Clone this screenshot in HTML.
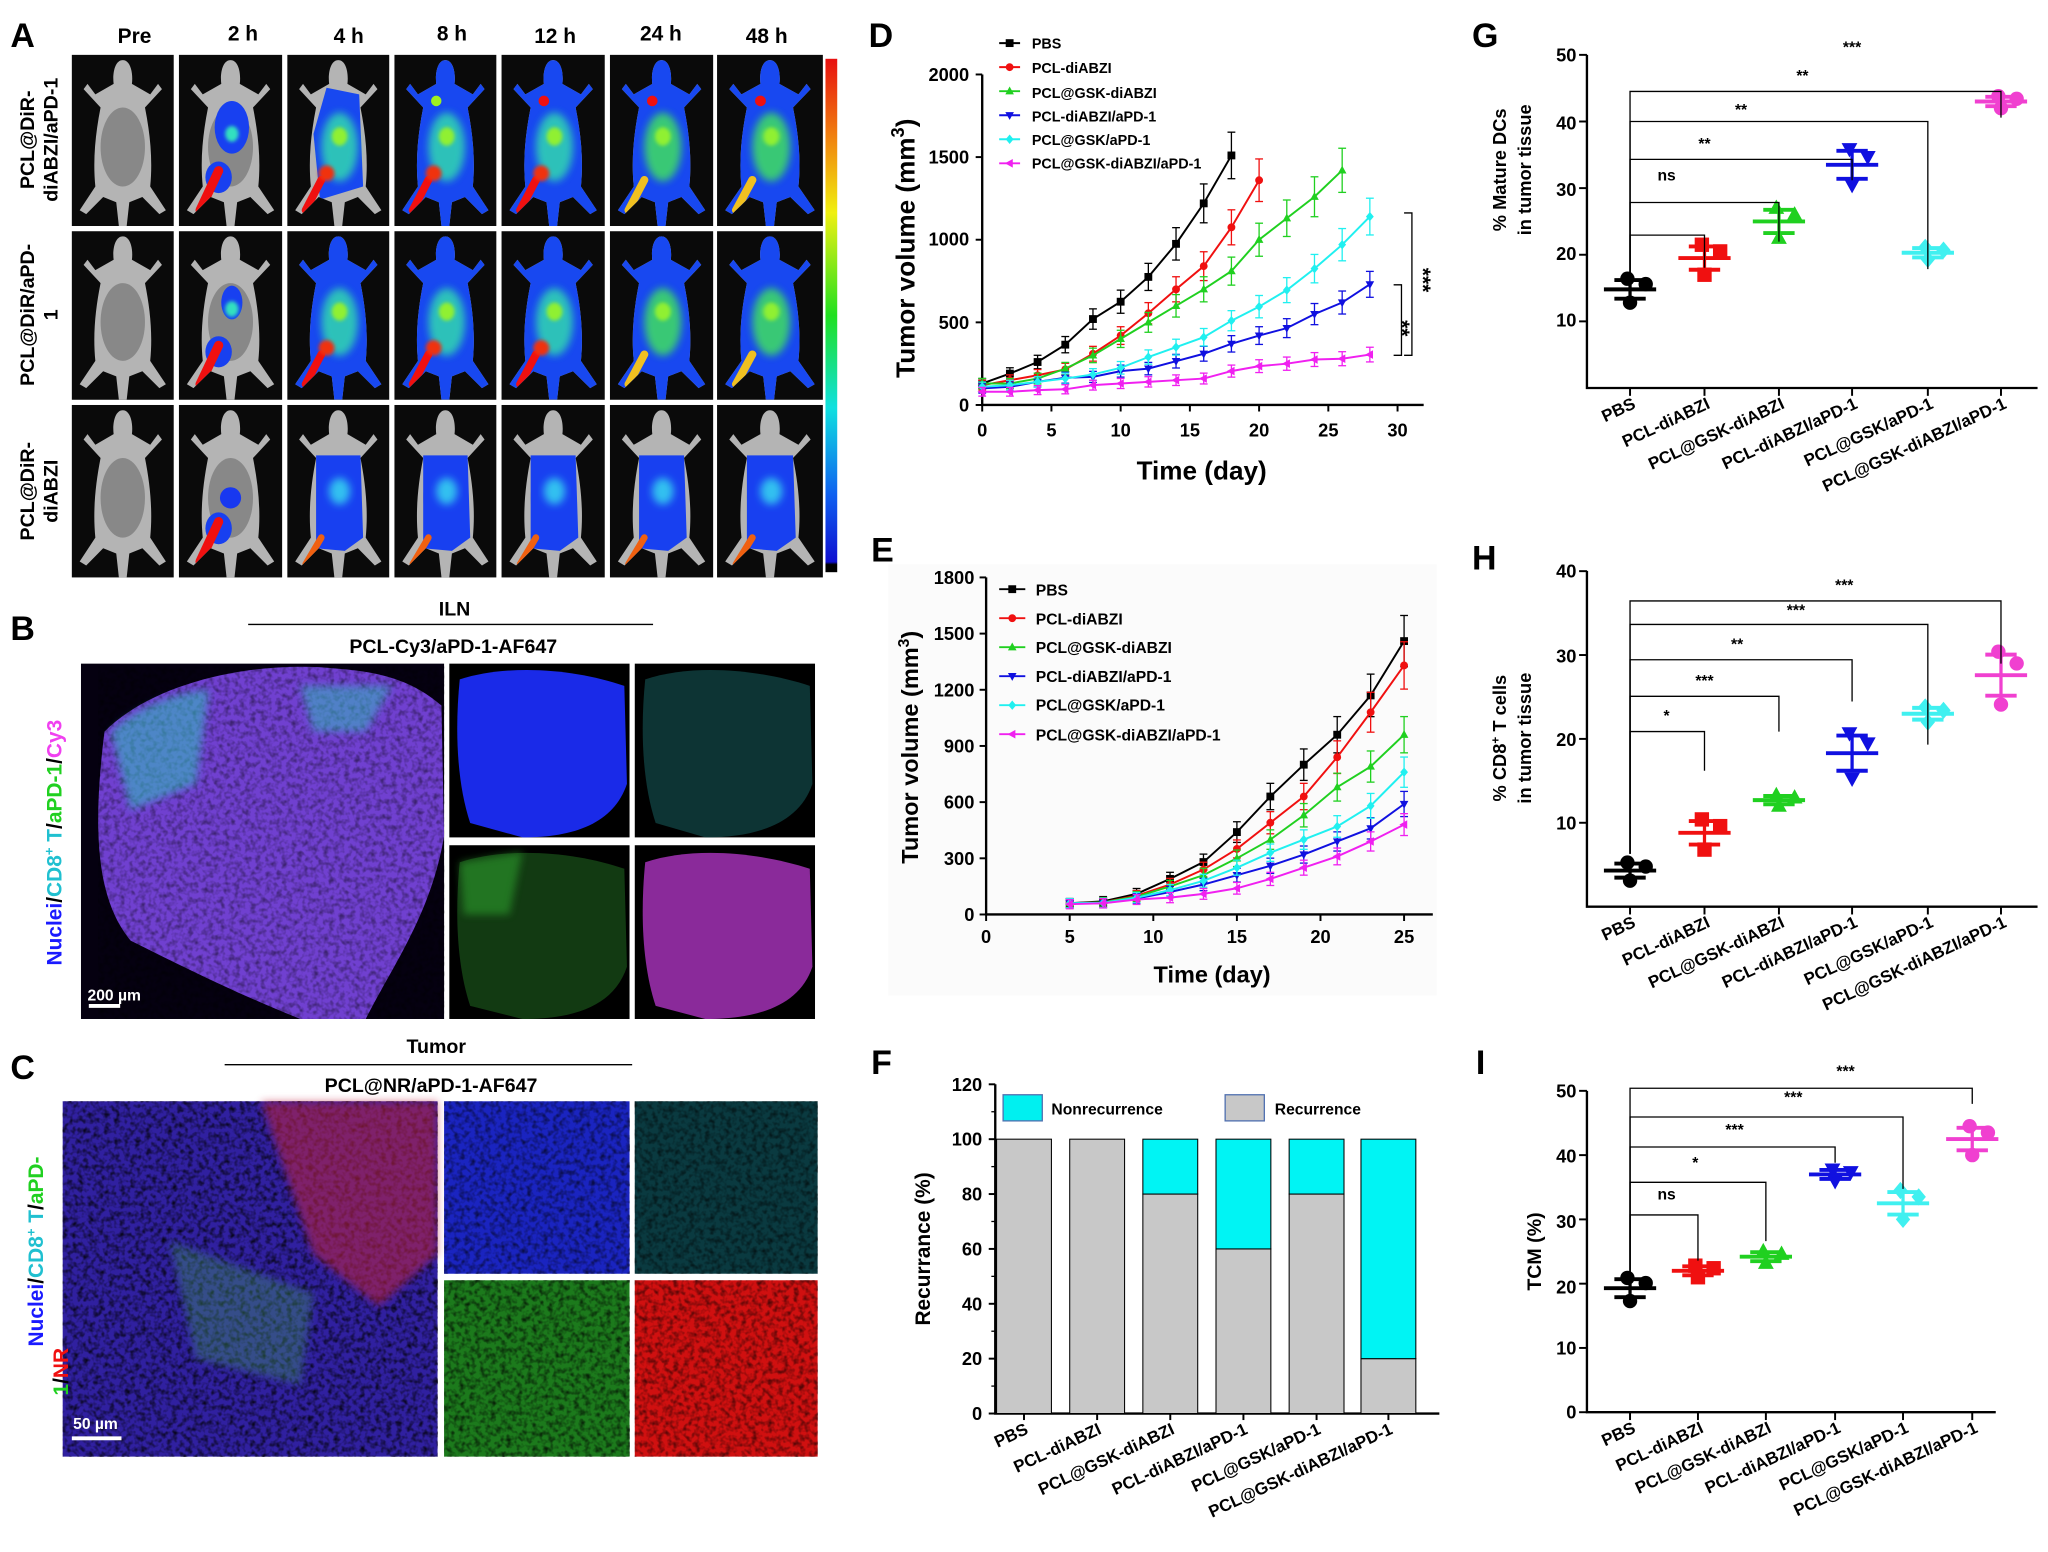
<!DOCTYPE html>
<html><head><meta charset="utf-8"><style>
html,body{margin:0;padding:0;background:#fff;}
svg{display:block;}
text{font-family:"Liberation Sans",Arial,sans-serif;font-weight:bold;fill:#000;}
</style></head><body>
<svg id="s" width="2048" height="1552" viewBox="0 0 1568 1188" preserveAspectRatio="none" xmlns="http://www.w3.org/2000/svg">
<defs>
<linearGradient id="cb" x1="0" y1="0" x2="0" y2="1">
<stop offset="0" stop-color="#e81010"/><stop offset="0.15" stop-color="#f08010"/><stop offset="0.3" stop-color="#f0f010"/><stop offset="0.5" stop-color="#20e020"/><stop offset="0.68" stop-color="#10e0e0"/><stop offset="0.85" stop-color="#1060f0"/><stop offset="0.98" stop-color="#1010d0"/><stop offset="0.985" stop-color="#000"/><stop offset="1" stop-color="#000"/>
</linearGradient>
<clipPath id="mc"><path d="M39,4 C45,4 47,14 46,22 L60,30 L66,22 L69,26 L56,40 C60,60 62,80 60,100 L72,118 L67,121 L54,108 L44,112 L42,130 L36,130 L34,112 L24,108 L11,121 L6,118 L18,100 C16,80 18,60 22,40 L9,26 L12,22 L18,30 L32,22 C31,14 33,4 39,4 Z"/></clipPath>
<filter id="bl" x="-30%" y="-30%" width="160%" height="160%"><feGaussianBlur stdDeviation="3"/></filter>
<filter id="bl2" x="-30%" y="-30%" width="160%" height="160%"><feGaussianBlur stdDeviation="1.5"/></filter>
<filter id="tex" x="0" y="0" width="100%" height="100%"><feTurbulence type="fractalNoise" baseFrequency="0.25" numOctaves="2" seed="3"/><feColorMatrix type="matrix" values="0 0 0 0 0  0 0 0 0 0  0 0 0 0 0  0 0 0 -2.2 1.3"/></filter>
</defs>
<g id="A"></g>
<rect x="632" y="45" width="9" height="393" fill="url(#cb)"/>
<text x="8" y="36" font-size="26">A</text>
<g font-size="16" text-anchor="middle">
<text x="103" y="33">Pre</text><text x="186" y="31">2 h</text><text x="267" y="33">4 h</text><text x="346" y="31">8 h</text><text x="425" y="33">12 h</text><text x="506" y="31">24 h</text><text x="587" y="33">48 h</text>
</g>
<g font-size="15" text-anchor="middle">
<text transform="translate(26,107) rotate(-90)">PCL@DiR-</text>
<text transform="translate(44,107) rotate(-90)">diABZI/aPD-1</text>
<text transform="translate(26,241) rotate(-90)">PCL@DiR/aPD-</text>
<text transform="translate(44,241) rotate(-90)">1</text>
<text transform="translate(26,376) rotate(-90)">PCL@DiR-</text>
<text transform="translate(44,376) rotate(-90)">diABZI</text>
</g>
<text x="8" y="490" font-size="26">B</text>
<text x="348" y="471" font-size="15" text-anchor="middle">ILN</text>
<line x1="190" y1="478" x2="500" y2="478" stroke="#000" stroke-width="1"/>
<text x="347" y="500" font-size="15" text-anchor="middle">PCL-Cy3/aPD-1-AF647</text>
<rect x="62" y="508" width="278" height="272" fill="#050010"/>
<path d="M80,560 C120,520 200,505 260,512 C300,515 320,525 338,540 L340,640 C330,700 300,740 280,780 L230,780 C180,760 140,740 100,720 C75,690 70,640 80,560 Z" fill="#7040d0"/>
<path d="M80,560 C120,520 200,505 260,512 C300,515 320,525 338,540 L340,640 C330,700 300,740 280,780 L230,780 C180,760 140,740 100,720 C75,690 70,640 80,560 Z" fill="#c040c0" opacity="0.45" filter="url(#tex)"/>
<path d="M85,560 C100,545 130,530 160,528 L150,600 L100,620 Z" fill="#30c0c0" opacity="0.55" filter="url(#bl)"/>
<path d="M230,525 L300,525 L280,560 L240,560 Z" fill="#30c0c0" opacity="0.5" filter="url(#bl)"/>
<rect x="344" y="508" width="138" height="133" fill="#000"/>
<path d="M352,520 C390,508 440,512 478,525 L480,600 C470,630 440,641 400,641 L360,630 C350,600 348,560 352,520Z" fill="#1a2ae8"/>
<rect x="486" y="508" width="138" height="133" fill="#000"/>
<path d="M494,520 C530,508 580,512 620,525 L622,600 C612,630 580,641 540,641 L502,630 C492,600 490,560 494,520Z" fill="#0d3434"/>
<rect x="344" y="647" width="138" height="133" fill="#000"/>
<path d="M352,660 C390,648 440,652 478,665 L480,740 C470,770 440,780 400,780 L360,770 C350,740 348,700 352,660Z" fill="#123a12"/>
<path d="M352,660 L400,652 L390,700 L355,700Z" fill="#30b030" opacity="0.5" filter="url(#bl)"/>
<rect x="486" y="647" width="138" height="133" fill="#000"/>
<path d="M494,660 C530,648 580,652 620,665 L622,740 C612,770 580,780 540,780 L502,770 C492,740 490,700 494,660Z" fill="#8a2a9a"/>
<line x1="68" y1="770" x2="92" y2="770" stroke="#fff" stroke-width="3"/>
<text x="67" y="766" font-size="12" style="fill:#fff">200 µm</text>
<text transform="translate(47,645) rotate(-90)" font-size="16" text-anchor="middle"><tspan style="fill:#1a1aff">Nuclei</tspan>/<tspan style="fill:#20c0d0">CD8</tspan><tspan style="fill:#20c0d0" font-size="10" dy="-6">+</tspan><tspan style="fill:#20c0d0" dy="6"> T</tspan>/<tspan style="fill:#20d020">aPD-1</tspan>/<tspan style="fill:#f040f0">Cy3</tspan></text>
<text x="8" y="826" font-size="26">C</text>
<text x="334" y="806" font-size="15" text-anchor="middle">Tumor</text>
<line x1="172" y1="815" x2="484" y2="815" stroke="#000" stroke-width="1"/>
<text x="330" y="836" font-size="15" text-anchor="middle">PCL@NR/aPD-1-AF647</text>
<rect x="48" y="843" width="287" height="272" fill="#3020a0"/>
<rect x="48" y="843" width="287" height="272" fill="#000" filter="url(#tex)" opacity="0.8"/>
<path d="M200,843 L335,843 L335,960 L290,1000 L240,960 Z" fill="#c02040" opacity="0.55" filter="url(#bl)"/>
<path d="M130,950 L240,990 L230,1060 L150,1040Z" fill="#40a060" opacity="0.35" filter="url(#bl)"/>
<rect x="340" y="843" width="142" height="132" fill="#1a24c0"/>
<rect x="340" y="843" width="142" height="132" fill="#000" filter="url(#tex)" opacity="0.6"/>
<rect x="486" y="843" width="140" height="132" fill="#0a3a40"/>
<rect x="486" y="843" width="140" height="132" fill="#000" filter="url(#tex)" opacity="0.6"/>
<rect x="340" y="980" width="142" height="135" fill="#1c7a1c"/>
<rect x="340" y="980" width="142" height="135" fill="#000" filter="url(#tex)" opacity="0.7"/>
<rect x="486" y="980" width="140" height="135" fill="#d01010"/>
<rect x="486" y="980" width="140" height="135" fill="#000" filter="url(#tex)" opacity="0.6"/>
<line x1="55" y1="1101" x2="93" y2="1101" stroke="#fff" stroke-width="3"/>
<text x="56" y="1094" font-size="12" style="fill:#fff">50 µm</text>
<text transform="translate(33,958) rotate(-90)" font-size="16" text-anchor="middle"><tspan style="fill:#1a1aff">Nuclei</tspan>/<tspan style="fill:#20c0d0">CD8</tspan><tspan style="fill:#20c0d0" font-size="10" dy="-6">+</tspan><tspan style="fill:#20c0d0" dy="6"> T</tspan>/<tspan style="fill:#20d020">aPD-</tspan></text>
<text transform="translate(52,1050) rotate(-90)" font-size="16" text-anchor="middle"><tspan style="fill:#20d020">1</tspan>/<tspan style="fill:#f01010">NR</tspan></text>

<text x="665" y="36" font-size="26">D</text>
<g font-size="14" text-anchor="end">
<text x="742" y="315">0</text><text x="742" y="252">500</text><text x="742" y="188">1000</text><text x="742" y="125">1500</text><text x="742" y="62">2000</text>
</g>
<g font-size="14" text-anchor="middle">
<text x="752" y="334">0</text><text x="805" y="334">5</text><text x="858" y="334">10</text><text x="911" y="334">15</text><text x="964" y="334">20</text><text x="1017" y="334">25</text><text x="1070" y="334">30</text>
</g>
<text x="920" y="367" font-size="20" text-anchor="middle">Time (day)</text>
<text transform="translate(700,190) rotate(-90)" font-size="20" text-anchor="middle">Tumor volume (mm<tspan font-size="14" dy="-8">3</tspan><tspan dy="8">)</tspan></text>
<g font-size="11">
<text x="790" y="37">PBS</text><text x="790" y="56">PCL-diABZI</text><text x="790" y="75">PCL@GSK-diABZI</text><text x="790" y="93">PCL-diABZI/aPD-1</text><text x="790" y="111">PCL@GSK/aPD-1</text><text x="790" y="129">PCL@GSK-diABZI/aPD-1</text>
</g>
<text transform="translate(1068,245) rotate(90)" font-size="16">**</text>
<text transform="translate(1084,205) rotate(90)" font-size="16">***</text>
<rect x="680" y="432" width="420" height="330" fill="#fbfbfb"/>
<text x="667" y="430" font-size="26">E</text>
<g font-size="14" text-anchor="end">
<text x="746" y="705">0</text><text x="746" y="662">300</text><text x="746" y="619">600</text><text x="746" y="576">900</text><text x="746" y="533">1200</text><text x="746" y="490">1500</text><text x="746" y="447">1800</text>
</g>
<g font-size="14" text-anchor="middle">
<text x="755" y="722">0</text><text x="819" y="722">5</text><text x="883" y="722">10</text><text x="947" y="722">15</text><text x="1011" y="722">20</text><text x="1075" y="722">25</text>
</g>
<text x="928" y="752" font-size="18" text-anchor="middle">Time (day)</text>
<text transform="translate(703,572) rotate(-90)" font-size="18" text-anchor="middle">Tumor volume (mm<tspan font-size="12" dy="-7">3</tspan><tspan dy="7">)</tspan></text>
<g font-size="12">
<text x="793" y="456">PBS</text><text x="793" y="478">PCL-diABZI</text><text x="793" y="500">PCL@GSK-diABZI</text><text x="793" y="522">PCL-diABZI/aPD-1</text><text x="793" y="544">PCL@GSK/aPD-1</text><text x="793" y="567">PCL@GSK-diABZI/aPD-1</text>
</g>
<text x="667" y="822" font-size="26">F</text>
<g font-size="14" text-anchor="end">
<text x="752" y="1087">0</text><text x="752" y="1045">20</text><text x="752" y="1003">40</text><text x="752" y="961">60</text><text x="752" y="919">80</text><text x="752" y="877">100</text><text x="752" y="835">120</text>
</g>
<text transform="translate(712,956) rotate(-90)" font-size="16" text-anchor="middle">Recurrance (%)</text>
<rect x="768" y="838" width="30" height="20" fill="#00f0f0" stroke="#5070b0"/>
<text x="805" y="853" font-size="12">Nonrecurrence</text>
<rect x="938" y="838" width="30" height="20" fill="#c8c8c8" stroke="#5070b0"/>
<text x="976" y="853" font-size="12">Recurrence</text>
<g font-size="13" text-anchor="end">
<text transform="translate(788,1097) rotate(-25)">PBS</text>
<text transform="translate(844,1097) rotate(-25)">PCL-diABZI</text>
<text transform="translate(900,1097) rotate(-25)">PCL@GSK-diABZI</text>
<text transform="translate(956,1097) rotate(-25)">PCL-diABZI/aPD-1</text>
<text transform="translate(1012,1097) rotate(-25)">PCL@GSK/aPD-1</text>
<text transform="translate(1067,1097) rotate(-25)">PCL@GSK-diABZI/aPD-1</text>
</g>
<text x="1127" y="36" font-size="26">G</text>
<g font-size="14" text-anchor="end">
<text x="1207" y="250">10</text><text x="1207" y="199">20</text><text x="1207" y="150">30</text><text x="1207" y="99">40</text><text x="1207" y="47">50</text>
</g>
<text transform="translate(1153,130) rotate(-90)" font-size="14" text-anchor="middle">% Mature DCs</text>
<text transform="translate(1172,130) rotate(-90)" font-size="14" text-anchor="middle">in tumor tissue</text>
<g font-size="12" text-anchor="middle"><text x="1276" y="138">ns</text><text x="1305" y="114">**</text><text x="1333" y="88">**</text><text x="1380" y="62">**</text><text x="1418" y="40">***</text></g>
<g font-size="13" text-anchor="end">
<text transform="translate(1253,312) rotate(-25)">PBS</text>
<text transform="translate(1310,312) rotate(-25)">PCL-diABZI</text>
<text transform="translate(1367,312) rotate(-25)">PCL@GSK-diABZI</text>
<text transform="translate(1423,312) rotate(-25)">PCL-diABZI/aPD-1</text>
<text transform="translate(1481,312) rotate(-25)">PCL@GSK/aPD-1</text>
<text transform="translate(1537,312) rotate(-25)">PCL@GSK-diABZI/aPD-1</text>
</g>
<text x="1127" y="436" font-size="26">H</text>
<g font-size="14" text-anchor="end">
<text x="1207" y="635">10</text><text x="1207" y="571">20</text><text x="1207" y="507">30</text><text x="1207" y="442">40</text>
</g>
<text transform="translate(1153,565) rotate(-90)" font-size="14" text-anchor="middle">% CD8<tspan font-size="9" dy="-5">+</tspan><tspan dy="5"> T cells</tspan></text>
<text transform="translate(1172,565) rotate(-90)" font-size="14" text-anchor="middle">in tumor tissue</text>
<g font-size="12" text-anchor="middle"><text x="1276" y="552">*</text><text x="1305" y="525">***</text><text x="1330" y="497">**</text><text x="1375" y="471">***</text><text x="1412" y="452">***</text></g>
<g font-size="13" text-anchor="end">
<text transform="translate(1253,709) rotate(-25)">PBS</text>
<text transform="translate(1310,709) rotate(-25)">PCL-diABZI</text>
<text transform="translate(1367,709) rotate(-25)">PCL@GSK-diABZI</text>
<text transform="translate(1423,709) rotate(-25)">PCL-diABZI/aPD-1</text>
<text transform="translate(1481,709) rotate(-25)">PCL@GSK/aPD-1</text>
<text transform="translate(1537,709) rotate(-25)">PCL@GSK-diABZI/aPD-1</text>
</g>
<text x="1130" y="822" font-size="26">I</text>
<g font-size="14" text-anchor="end">
<text x="1207" y="1086">0</text><text x="1207" y="1037">10</text><text x="1207" y="990">20</text><text x="1207" y="940">30</text><text x="1207" y="890">40</text><text x="1207" y="840">50</text>
</g>
<text transform="translate(1180,958) rotate(-90)" font-size="15" text-anchor="middle">TCM (%)</text>
<g font-size="12" text-anchor="middle"><text x="1276" y="918">ns</text><text x="1298" y="894">*</text><text x="1328" y="869">***</text><text x="1373" y="844">***</text><text x="1413" y="824">***</text></g>
<g font-size="13" text-anchor="end">
<text transform="translate(1253,1096) rotate(-25)">PBS</text>
<text transform="translate(1305,1096) rotate(-25)">PCL-diABZI</text>
<text transform="translate(1357,1096) rotate(-25)">PCL@GSK-diABZI</text>
<text transform="translate(1410,1096) rotate(-25)">PCL-diABZI/aPD-1</text>
<text transform="translate(1462,1096) rotate(-25)">PCL@GSK/aPD-1</text>
<text transform="translate(1515,1096) rotate(-25)">PCL@GSK-diABZI/aPD-1</text>
</g>
<g id="P"></g>
</svg>
<script>
var NS="http://www.w3.org/2000/svg";
function el(p,t,a){var e=document.createElementNS(NS,t);for(var k in a)e.setAttribute(k,a[k]);p.appendChild(e);return e;}
var A=document.getElementById("A"),P=document.getElementById("P");
var cx=[55,137,220,302,384,467,549],cw=[78,79,78,78,79,79,81],ry=[42,177,310],rh=[131,129,132];
var mouse="M39,4 C45,4 47,14 46,22 L60,30 L66,22 L69,26 L56,40 C60,60 62,80 60,100 L72,118 L67,121 L54,108 L44,112 L42,130 L36,130 L34,112 L24,108 L11,121 L6,118 L18,100 C16,80 18,60 22,40 L9,26 L12,22 L18,30 L32,22 C31,14 33,4 39,4 Z";
for(var r=0;r<3;r++)for(var c=0;c<7;c++){
 var g=el(A,"g",{transform:"translate("+cx[c]+","+ry[r]+") scale("+(cw[c]/78)+","+(rh[r]/130)+")"});
 el(g,"rect",{x:0,y:0,width:78,height:130,fill:"#0a0a0a"});
 el(g,"path",{d:mouse,fill:"#b4b4b4"});
 el(g,"ellipse",{cx:39,cy:70,rx:17,ry:30,fill:"#888"});
 var s=el(g,"g",{"clip-path":"url(#mc)"});
 if(c==0)continue;
 if(c==1){
  if(r<2){el(s,"ellipse",{cx:40,cy:55,rx:r==0?13:8,ry:r==0?20:13,fill:"#1840f0"});el(s,"ellipse",{cx:40,cy:60,rx:5,ry:6,fill:"#30e0c0",filter:"url(#bl2)"});}
  else el(s,"circle",{cx:39,cy:70,r:8,fill:"#1838f0"});
  el(s,"ellipse",{cx:30,cy:93,rx:10,ry:12,fill:"#1840f0"});
  el(s,"path",{d:"M30,88 L16,118",stroke:"#f01010","stroke-width":7,"stroke-linecap":"round"});
  continue;
 }
 if(r<2){
  var full=(c>=3)||r==1;
  if(full) el(s,"rect",{x:0,y:0,width:78,height:130,fill:"#1848f0"});
  else el(s,"path",{d:"M30,25 L55,30 L58,100 L25,110 L20,60Z",fill:"#1848f0"});
  el(s,"ellipse",{cx:40,cy:70,rx:14,ry:26,fill:c>=5?"#40e060":"#30d8b0",filter:"url(#bl)",opacity:0.85});
  el(s,"ellipse",{cx:40,cy:62,rx:6,ry:7,fill:"#90f030",filter:"url(#bl2)"});
  if(r==0&&c>=3) el(s,"circle",{cx:32,cy:35,r:4,fill:c>=4?"#f01010":"#a0f020"});
  el(s,"path",{d:"M26,95 L14,118",stroke:c>=5?"#f0c020":"#f01010","stroke-width":6,"stroke-linecap":"round"});
  if(c<=4)el(s,"circle",{cx:30,cy:90,r:6,fill:"#f03010",filter:"url(#bl2)"});
 } else {
  el(s,"path",{d:"M22,38 L56,38 L58,100 L44,110 L22,108Z",fill:"#1840f0"});
  el(s,"ellipse",{cx:40,cy:65,rx:8,ry:10,fill:"#30c0f0",filter:"url(#bl)"});
  el(s,"path",{d:"M26,100 L14,120",stroke:"#f06010","stroke-width":5,"stroke-linecap":"round"});
 }
}
function marker(p,type,x,y,s,col){
 var d;
 if(type=="sq")return el(p,"rect",{x:x-s,y:y-s,width:2*s,height:2*s,fill:col});
 if(type=="ci")return el(p,"circle",{cx:x,cy:y,r:s,fill:col});
 if(type=="tu")d="M"+x+","+(y-s*1.2)+" L"+(x+s*1.1)+","+(y+s*0.8)+" L"+(x-s*1.1)+","+(y+s*0.8)+"Z";
 if(type=="td")d="M"+x+","+(y+s*1.2)+" L"+(x+s*1.1)+","+(y-s*0.8)+" L"+(x-s*1.1)+","+(y-s*0.8)+"Z";
 if(type=="di")d="M"+x+","+(y-s*1.2)+" L"+(x+s)+","+y+" L"+x+","+(y+s*1.2)+" L"+(x-s)+","+y+"Z";
 if(type=="tl")d="M"+(x-s*1.2)+","+y+" L"+(x+s*0.8)+","+(y-s*1.1)+" L"+(x+s*0.8)+","+(y+s*1.1)+"Z";
 return el(p,"path",{d:d,fill:col});
}
var cols=["#000","#f01010","#20d020","#1010e0","#20f0f0","#f020f0"];
var mk=["sq","ci","tu","td","di","tl"];
function axes(x0,y0,x1,y1,yt,xt,len){
 el(P,"path",{d:"M"+x0+","+y1+" L"+x0+","+y0+" L"+x1+","+y0,fill:"none",stroke:"#000","stroke-width":1.8});
 yt.forEach(function(y){el(P,"line",{x1:x0-(len||5),y1:y,x2:x0,y2:y,stroke:"#000","stroke-width":1.5});});
 xt.forEach(function(x){el(P,"line",{x1:x,y1:y0,x2:x,y2:y0+(len||5),stroke:"#000","stroke-width":1.5});});
}
function lines(sx,sy,days,data,ms,lg){
 data.forEach(function(v,i){
  var d=days[i]||days[0];var pts=[];
  v.forEach(function(val,j){var x=sx(d[j]),y=sy(val);pts.push(x+","+y);
   var e=sy(val)-sy(val+20+val*0.08);
   el(P,"line",{x1:x,y1:y-e,x2:x,y2:y+e,stroke:cols[i],"stroke-width":1});
   el(P,"line",{x1:x-3,y1:y-e,x2:x+3,y2:y-e,stroke:cols[i],"stroke-width":1});
   el(P,"line",{x1:x-3,y1:y+e,x2:x+3,y2:y+e,stroke:cols[i],"stroke-width":1});
  });
  el(P,"polyline",{points:pts.join(" "),fill:"none",stroke:cols[i],"stroke-width":1.5});
  v.forEach(function(val,j){marker(P,mk[i],sx(d[j]),sy(val),ms,cols[i]);});
  el(P,"line",{x1:lg[0],y1:lg[1]+i*lg[2],x2:lg[0]+lg[3],y2:lg[1]+i*lg[2],stroke:cols[i],"stroke-width":1.5});
  marker(P,mk[i],lg[0]+lg[3]/2,lg[1]+i*lg[2],ms,cols[i]);
 });
}
var dsx=function(d){return 752+d*10.6},dsy=function(v){return 310-v*253/2000};
var yt=[],xt=[];[0,500,1000,1500,2000].forEach(function(v){yt.push(dsy(v))});for(var d=0;d<=30;d+=5)xt.push(dsx(d));
axes(752,310,1090,57,yt,xt);
function rng(a,b,s){var r=[];for(var i=a;i<=b;i+=s)r.push(i);return r;}
lines(dsx,dsy,[rng(0,18,2),rng(0,20,2),rng(0,26,2),rng(0,28,2),rng(0,28,2),rng(0,28,2)],[
[130,190,260,365,520,625,775,975,1220,1510],
[120,150,180,215,310,420,555,700,840,1075,1360],
[130,130,160,220,300,400,500,600,700,810,1000,1130,1260,1420],
[100,110,140,165,170,205,220,265,310,370,420,465,550,620,730],
[110,120,140,160,185,225,290,350,410,510,595,695,825,970,1140],
[80,80,90,95,120,130,140,150,160,205,235,250,275,280,305]],3,[765,33,18.4,16]);
el(P,"path",{d:"M1067,218 L1073,218 L1073,272 L1067,272",fill:"none",stroke:"#000","stroke-width":1});
el(P,"path",{d:"M1075,163 L1081,163 L1081,272 L1075,272",fill:"none",stroke:"#000","stroke-width":1});
var esx=function(d){return 755+d*12.8},esy=function(v){return 700-v*258/1800};
yt=[];xt=[];for(var v=0;v<=1800;v+=300)yt.push(esy(v));for(d=0;d<=25;d+=5)xt.push(esx(d));
axes(755,700,1097,442,yt,xt);
var ed=rng(5,25,2);
lines(esx,esy,[ed],[
[60,70,110,190,280,440,630,800,960,1170,1460],
[60,65,100,160,240,350,490,630,840,1080,1330],
[60,65,95,150,210,300,400,530,680,790,960],
[60,60,85,120,160,210,260,320,390,460,590],
[60,62,90,130,180,250,330,400,470,580,760],
[55,60,80,90,110,140,190,250,310,390,480]],3,[765,451,22.2,20]);
var fsy=function(v){return 1082-v*2.1};
yt=[];for(v=0;v<=120;v+=20)yt.push(fsy(v));for(v=10;v<=110;v+=20)el(P,"line",{x1:759,y1:fsy(v),x2:762,y2:fsy(v),stroke:"#000"});
var fc=[784,840,896,952,1008,1063];
axes(762,1082,1102,830,yt,fc);
[100,100,80,60,80,20].forEach(function(r,i){
 el(P,"rect",{x:fc[i]-21,y:fsy(r),width:42,height:fsy(0)-fsy(r),fill:"#c8c8c8",stroke:"#000","stroke-width":0.8});
 if(r<100)el(P,"rect",{x:fc[i]-21,y:fsy(100),width:42,height:fsy(r)-fsy(100),fill:"#00f4f4",stroke:"#000","stroke-width":0.8});
});
var sm=["ci","sq","tu","td","di","ci"];
var scol=["#000","#f01010","#20d020","#1010e0","#40f0f0","#f040d0"];
function scatter(xs,sy,vals,spr,x0,y0,x1,y1,ytv,br){
 var yt=ytv.map(sy);axes(x0,y0,x1,y1,yt,xs,6);
 vals.forEach(function(v,i){var x=xs[i];var s=spr[i];
  var pts=[v-s,v+s*0.4,v+s*0.8];
  el(P,"line",{x1:x,y1:sy(v-s*0.7),x2:x,y2:sy(v+s*0.7),stroke:scol[i],"stroke-width":2.5});
  el(P,"line",{x1:x-20,y1:sy(v),x2:x+20,y2:sy(v),stroke:scol[i],"stroke-width":3});
  el(P,"line",{x1:x-12,y1:sy(v-s*0.7),x2:x+12,y2:sy(v-s*0.7),stroke:scol[i],"stroke-width":3});
  el(P,"line",{x1:x-12,y1:sy(v+s*0.7),x2:x+12,y2:sy(v+s*0.7),stroke:scol[i],"stroke-width":3});
  marker(P,sm[i],x,sy(pts[0]),5.5,scol[i]);marker(P,sm[i],x+12,sy(pts[1]),5.5,scol[i]);marker(P,sm[i],x-2,sy(pts[2]),5.5,scol[i]);
 });
 br.forEach(function(b,j){var yb=b[0],ye=b[1];
  el(P,"path",{d:"M"+xs[0]+","+sy(vals[0]+2)+" L"+xs[0]+","+yb+" L"+xs[j+1]+","+yb+" L"+xs[j+1]+","+ye,fill:"none",stroke:"#000","stroke-width":1});
 });
}
var gx=[1248,1305,1362,1418,1476,1532];
var gsy=function(v){return 297-v*5.1};
scatter(gx,gsy,[14.8,19.5,25,33.5,20.3,43],[2,2.5,2.5,3,1,1],1215,297,1560,42,[10,20,30,40,50],
 [[180,205],[155,185],[122,138],[93,206],[70,90]]);
var hsy=function(v){return 694-v*6.42};
scatter(gx,hsy,[4.3,8.8,12.7,18.3,23,27.6],[1.2,2,0.7,3,1,3.5],1215,694,1560,437,[10,20,30,40],
 [[560,590],[533,560],[505,537],[478,570],[460,508]]);
var ix=[1248,1300,1352,1405,1457,1510];
var isy=function(v){return 1081-v*4.92};
scatter(ix,isy,[19.3,22,24.2,37,32.5,42.5],[2,1,1,1,2.5,2.5],1215,1081,1528,835,[0,10,20,30,40,50],
 [[930,965],[905,950],[878,890],[855,910],[833,845]]);
</script>
</body></html>
